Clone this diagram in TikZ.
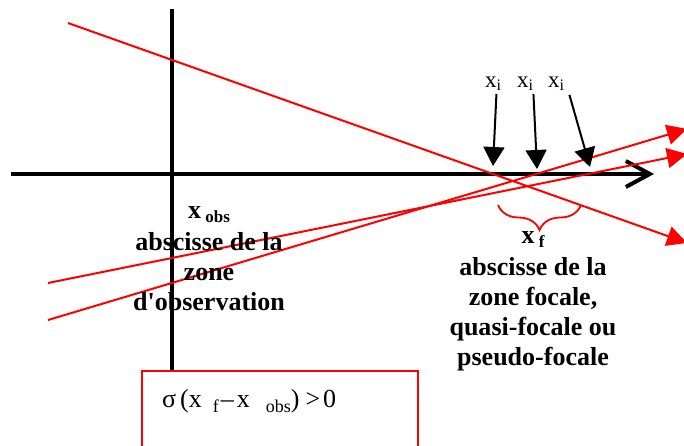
\documentclass[tikz,border=0pt]{standalone}
\usepackage{fontspec}
\setmainfont{Liberation Serif}
\usetikzlibrary{arrows.meta,decorations.pathreplacing}
\newcommand\mysubA[1]{\raisebox{-4pt}{\fontsize{17}{17}\selectfont #1}}
\newcommand\mysubB[1]{\raisebox{-5pt}{\fontsize{18}{18}\selectfont #1}}
\begin{document}
\begin{tikzpicture}[x=1pt,y=-1pt,
  redline/.style={red, line width=2pt, -{Triangle[length=20pt,width=20pt]}},
  blackarrow/.style={black, line width=2pt, -{Triangle[length=19pt,width=21pt]}},
  axisline/.style={black, line width=4pt},
  bigbold/.style={font=\fontsize{26}{30}\selectfont\bfseries, inner sep=0pt, anchor=base},
  xilabel/.style={font=\fontsize{23}{25}\selectfont, inner sep=0pt, anchor=base west},
 ]
\useasboundingbox (0,0) rectangle (684,445);
\clip (0,0) rectangle (684,445);

% box with formula
\node[draw=red, line width=2pt, minimum width=276pt, minimum height=90pt, anchor=north west, inner sep=0pt] (box) at (141,370) {};
\node[font=\fontsize{26}{28}\selectfont, inner sep=0pt, anchor=base west] (sigma) at (162,407)
  {σ\hspace{4pt}(x\hspace{11pt}\mysubB{f}\hspace{2pt}–\hspace{3pt}x\hspace{16pt}\mysubB{obs})\hspace{6pt}>\hspace{3pt}0};

% axes
\coordinate (vtop) at (172,9);
\draw[axisline] (vtop) -- (vtop |- box.north);
\coordinate (hl) at (11,174);
\coordinate (hr) at (654,174);
\draw[axisline, -{Straight Barb[length=24pt,width=26pt]}] (hl) -- (hr);

% red rays
\coordinate (d1) at (68,23);   \coordinate (d2) at (687,242.9);
\coordinate (s1) at (48,320);  \coordinate (s2) at (687,128.9);
\coordinate (t1) at (48,283);  \coordinate (t2) at (687,154.0);
\draw[redline] (d1) -- (d2);
\draw[redline] (s1) -- (s2);
\draw[redline] (t1) -- (t2);

% x_i labels and arrows
\node[xilabel] (xi1) at (485,87) {x\textsubscript{i}};
\node[xilabel] (xi2) at (517,87) {x\textsubscript{i}};
\node[xilabel] (xi3) at (548,87) {x\textsubscript{i}};
\coordinate (a1) at (493,166);
\coordinate (a2) at (537,169);
\coordinate (a3) at (590,167);
\draw[blackarrow] ([xshift=3pt,yshift=-3pt]xi1.south) -- (a1);
\draw[blackarrow] ([xshift=8pt,yshift=-3pt]xi2.south) -- (a2);
\draw[blackarrow] ([xshift=13pt,yshift=-4pt]xi3.south) -- (a3);

% brace
\coordinate (bl) at (498,205);
\coordinate (br) at (581,205);
\draw[red, line width=1.8pt, decorate, decoration={brace, mirror, amplitude=25pt, aspect=0.5}] (bl) -- (br);

% labels
\node[bigbold] (obs) at (209,218) {\begin{tabular}[t]{@{}c@{}}x\,\mysubA{obs}\\[2pt]abscisse de la\\zone\\d\textquotesingle observation\end{tabular}};
\node[bigbold] (foc) at (533,243) {\begin{tabular}[t]{@{}c@{}}x\,\mysubA{f}\\[2pt]abscisse de la\\zone focale,\\quasi-focale ou\\pseudo-focale\end{tabular}};
\end{tikzpicture}
\end{document}
